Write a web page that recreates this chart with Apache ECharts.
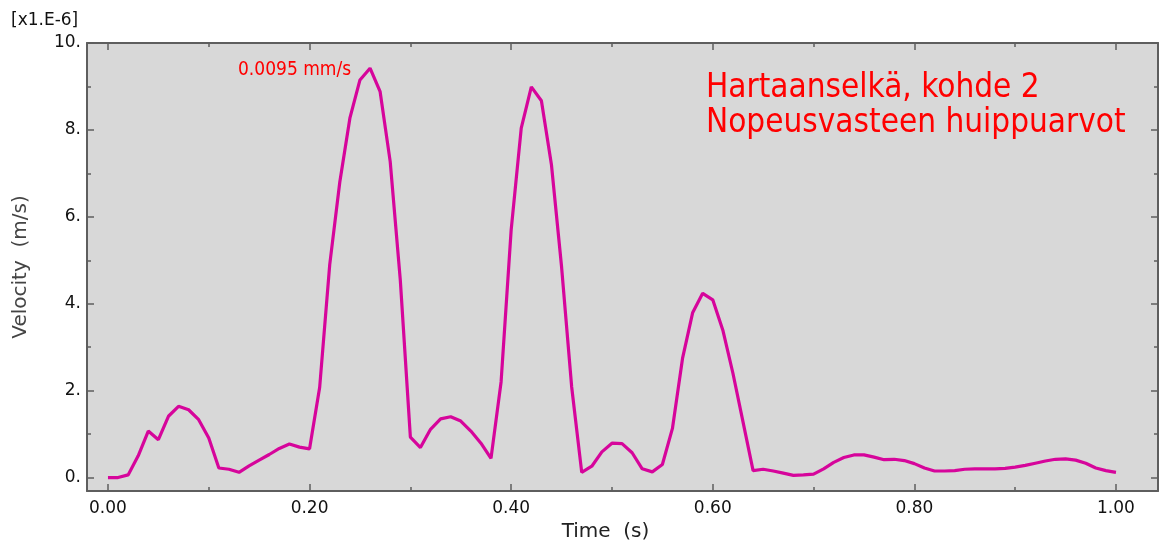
<!DOCTYPE html>
<html>
<head>
<meta charset="utf-8">
<script src="https://cdn.jsdelivr.net/npm/echarts@6/dist/echarts.min.js"></script>
<style>
html,body{margin:0;padding:0;background:#fff;}
#main{width:1159px;height:542px;}
</style>
</head>
<body>
<div id="main"></div>
<script>
// Time (s)
const times = [
  0.00,0.01,0.02,0.03,0.04,0.05,0.06,0.07,0.08,0.09,
  0.10,0.11,0.12,0.13,0.14,0.15,0.16,0.17,0.18,0.19,
  0.20,0.21,0.22,0.23,0.24,0.25,0.26,0.27,0.28,0.29,
  0.30,0.31,0.32,0.33,0.34,0.35,0.36,0.37,0.38,0.39,
  0.40,0.41,0.42,0.43,0.44,0.45,0.46,0.47,0.48,0.49,
  0.50,0.51,0.52,0.53,0.54,0.55,0.56,0.57,0.58,0.59,
  0.60,0.61,0.62,0.63,0.64,0.65,0.66,0.67,0.68,0.69,
  0.70,0.71,0.72,0.73,0.74,0.75,0.76,0.77,0.78,0.79,
  0.80,0.81,0.82,0.83,0.84,0.85,0.86,0.87,0.88,0.89,
  0.90,0.91,0.92,0.93,0.94,0.95,0.96,0.97,0.98,0.99,
  1.00
];
// Velocity (x1.E-6 m/s)
const velocity = [
  0.00,0.00,0.06,0.50,1.07,0.87,1.41,1.64,1.56,1.33,
  0.91,0.22,0.19,0.12,0.27,0.40,0.53,0.67,0.77,0.70,
  0.66,2.07,4.90,6.80,8.27,9.15,9.42,8.88,7.27,4.55,
  0.93,0.69,1.11,1.35,1.40,1.30,1.07,0.79,0.44,2.20,
  5.70,8.04,8.99,8.67,7.19,4.85,2.09,0.12,0.26,0.59,
  0.79,0.78,0.57,0.20,0.13,0.30,1.13,2.74,3.79,4.24,
  4.09,3.39,2.40,1.28,0.16,0.19,0.15,0.10,0.05,0.06,
  0.08,0.20,0.35,0.46,0.52,0.52,0.47,0.41,0.42,0.39,
  0.32,0.22,0.15,0.15,0.16,0.19,0.20,0.20,0.20,0.21,
  0.24,0.28,0.33,0.38,0.42,0.43,0.40,0.33,0.22,0.16,
  0.12
];
const xMajorTicks = [0.0,0.2,0.4,0.6,0.8,1.0];
const xMinorTicks = [0.1,0.3,0.5,0.7,0.9];
const yMajorTicks = [0,2,4,6,8,10];
const yMinorTicks = [1,3,5,7,9];
const xLabel = 'Time  (s)';
const yLabel = 'Velocity  (m/s)';
const scaleLabel = '[x1.E-6]';
const peakNote = '0.0095 mm/s';
const titleText = 'Hartaanselkä, kohde 2\nNopeusvasteen huippuarvot';

const XMIN = -0.0208, XMAX = 1.0417, YMIN = -0.31, YMAX = 10;
const axisCol = '#5e5e5e';
const font = 'DejaVu Sans';

function xAxisDef(pos, ticks, len, showLine, showLabel, name) {
  return {
    type:'value', position:pos, min:XMIN, max:XMAX,
    axisLine:{show:showLine, onZero:false, lineStyle:{color:axisCol, width:2}},
    axisTick:{show:true, inside:true, length:len, customValues:ticks, lineStyle:{color:axisCol, width:1.5}},
    axisLabel:{show:showLabel, customValues:ticks, formatter:v=>v.toFixed(2), color:'#111', fontFamily:font, fontSize:17, margin:9},
    splitLine:{show:false},
    name: name || '', nameLocation:'middle', nameGap:30,
    nameTextStyle:{fontFamily:font, fontSize:20, color:'#222', padding:[0,34,0,0]}
  };
}
function yAxisDef(pos, ticks, len, showLine, showLabel, name) {
  return {
    type:'value', position:pos, min:YMIN, max:YMAX,
    axisLine:{show:showLine, onZero:false, lineStyle:{color:axisCol, width:2}},
    axisTick:{show:true, inside:true, length:len, customValues:ticks, lineStyle:{color:axisCol, width:1.5}},
    axisLabel:{show:showLabel, customValues:ticks, formatter:v=>v+'.', color:'#111', fontFamily:font, fontSize:17, margin:6},
    splitLine:{show:false},
    name: name || '', nameLocation:'middle', nameGap:56,
    nameTextStyle:{fontFamily:font, fontSize:20, color:'#444'}
  };
}

const chart = echarts.init(document.getElementById('main'), null, {renderer:'canvas'});
chart.setOption({
  animation:false,
  backgroundColor:'#ffffff',
  grid:{left:87, top:43, right:1, bottom:51, show:true, backgroundColor:'#d8d8d8', borderWidth:0,
        containLabel:false, outerBoundsMode:'none'},
  title:[
    {text:titleText, left:701, top:66, textStyle:{fontFamily:'DejaVu Sans Condensed', fontSize:33, fontWeight:'normal', color:'#ff0000', lineHeight:35}},
    {text:peakNote, left:233, top:56, textStyle:{fontFamily:'DejaVu Sans Condensed', fontSize:19, fontWeight:'normal', color:'#ff0000'}},
    {text:scaleLabel, left:6, top:7, textStyle:{fontFamily:font, fontSize:17, fontWeight:'normal', color:'#111'}}
  ],
  xAxis:[
    xAxisDef('bottom', xMajorTicks, 7, true, true, xLabel),
    xAxisDef('bottom', xMinorTicks, 4, false, false),
    xAxisDef('top', xMajorTicks, 7, true, false),
    xAxisDef('top', xMinorTicks, 4, false, false)
  ],
  yAxis:[
    yAxisDef('left', yMajorTicks, 7, true, true, yLabel),
    yAxisDef('left', yMinorTicks, 4, false, false),
    yAxisDef('right', yMajorTicks, 7, true, false),
    yAxisDef('right', yMinorTicks, 4, false, false)
  ],
  series:[{
    type:'line', xAxisIndex:0, yAxisIndex:0,
    data: times.map((t,i)=>[t, velocity[i]]),
    showSymbol:false, symbol:'none', smooth:false,
    lineStyle:{color:'#d6059b', width:3.2}
  }]
});
</script>
</body>
</html>
